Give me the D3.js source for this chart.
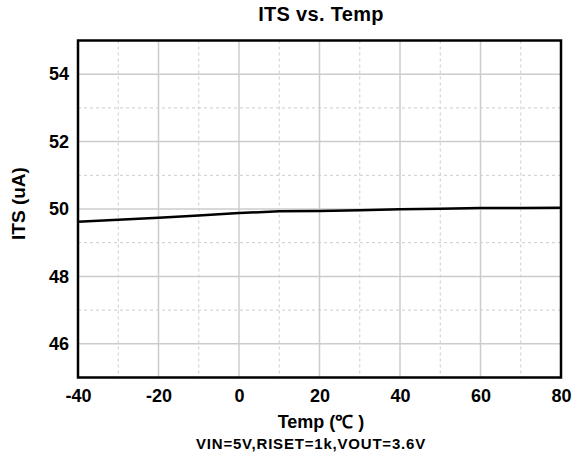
<!DOCTYPE html>
<html>
<head>
<meta charset="utf-8">
<script src="https://cdn.jsdelivr.net/npm/d3@7"></script>
<style>
  body { margin: 0; background: #fff; }
  text { font-family: "Liberation Sans", Arial, sans-serif; font-weight: bold; fill: #000; }
</style>
</head>
<body>
<div id="chart"></div>
<script>
// data
var temps = [-40, -30, -20, -10, 0, 10, 20, 30, 40, 50, 60, 70, 80];
var itsValues = [49.62, 49.68, 49.74, 49.81, 49.88, 49.93, 49.94, 49.96, 49.99, 50.01, 50.03, 50.03, 50.04];
var xTicks = [-40, -20, 0, 20, 40, 60, 80];
var xMinor = [-30, -10, 10, 30, 50, 70];
var yTicks = [46, 48, 50, 52, 54];
var yMinor = [45, 47, 49, 51, 53, 55];

var svgWidth = 574;
var svgHeight = 461;

var margin = { top: 40.5, right: 13, bottom: 83.5, left: 78 };
var chartWidth = svgWidth - margin.left - margin.right;
var chartHeight = svgHeight - margin.top - margin.bottom;

var svg = d3.select("#chart")
    .append("svg")
    .attr("width", svgWidth)
    .attr("height", svgHeight);

var chartGroup = svg.append("g")
    .attr("transform", `translate(${margin.left}, ${margin.top})`);

var xScale = d3.scaleLinear().domain([-40, 80]).range([0, chartWidth]);
var yScale = d3.scaleLinear().domain([45, 55]).range([chartHeight, 0]);

// minor grid (dashed)
chartGroup.selectAll(".xminor").data(xMinor).enter().append("line")
    .attr("x1", d => xScale(d)).attr("x2", d => xScale(d))
    .attr("y1", 0).attr("y2", chartHeight)
    .attr("stroke", "#cccccc").attr("stroke-dasharray", "3,3");
chartGroup.selectAll(".yminor").data(yMinor).enter().append("line")
    .attr("x1", 0).attr("x2", chartWidth)
    .attr("y1", d => yScale(d)).attr("y2", d => yScale(d))
    .attr("stroke", "#cccccc").attr("stroke-dasharray", "3,3");

// major grid (solid)
chartGroup.selectAll(".xmajor").data(xTicks).enter().append("line")
    .attr("x1", d => xScale(d)).attr("x2", d => xScale(d))
    .attr("y1", 0).attr("y2", chartHeight)
    .attr("stroke", "#cccccc").attr("stroke-width", 1.5);
chartGroup.selectAll(".ymajor").data(yTicks).enter().append("line")
    .attr("x1", 0).attr("x2", chartWidth)
    .attr("y1", d => yScale(d)).attr("y2", d => yScale(d))
    .attr("stroke", "#cccccc").attr("stroke-width", 1.5);

// axes (labels only, no tick marks), plain hyphen for negatives
var bottomAxis = d3.axisBottom(xScale).tickValues(xTicks).tickSize(0).tickPadding(12)
    .tickFormat(d => String(d));
var leftAxis = d3.axisLeft(yScale).tickValues(yTicks).tickSize(0).tickPadding(9)
    .tickFormat(d => String(d));

var xAxisG = chartGroup.append("g")
    .attr("transform", `translate(0, ${chartHeight})`)
    .call(bottomAxis);
var yAxisG = chartGroup.append("g").call(leftAxis);

[xAxisG, yAxisG].forEach(function(g) {
    g.select(".domain").remove();
    g.selectAll("text")
      .attr("font-size", "18px")
      .attr("font-family", "\"Liberation Sans\", Arial, sans-serif")
      .attr("font-weight", "bold")
      .attr("fill", "#000");
});

// data line
var line = d3.line()
    .x((d, i) => xScale(temps[i]))
    .y(d => yScale(d));

chartGroup.append("path")
    .datum(itsValues)
    .attr("d", line)
    .attr("fill", "none")
    .attr("stroke", "#000")
    .attr("stroke-width", 2.5);

// frame
chartGroup.append("rect")
    .attr("x", 0).attr("y", 0)
    .attr("width", chartWidth).attr("height", chartHeight)
    .attr("fill", "none")
    .attr("stroke", "#000")
    .attr("stroke-width", 2.5);

// titles
svg.append("text")
    .attr("x", 321).attr("y", 21)
    .attr("text-anchor", "middle")
    .attr("font-size", "20px")
    .attr("letter-spacing", "0.3px")
    .text("ITS vs. Temp");

svg.append("text")
    .attr("transform", "translate(25, 203.5) rotate(-90)")
    .attr("text-anchor", "middle")
    .attr("font-size", "19px")
    .text("ITS (uA)");

svg.append("text")
    .attr("x", 321).attr("y", 428)
    .attr("text-anchor", "middle")
    .attr("font-size", "18px")
    .text("Temp (℃ )");

svg.append("text")
    .attr("x", 311).attr("y", 449)
    .attr("text-anchor", "middle")
    .attr("font-size", "15px")
    .attr("letter-spacing", "0.8px")
    .text("VIN=5V,RISET=1k,VOUT=3.6V");
</script>
</body>
</html>
